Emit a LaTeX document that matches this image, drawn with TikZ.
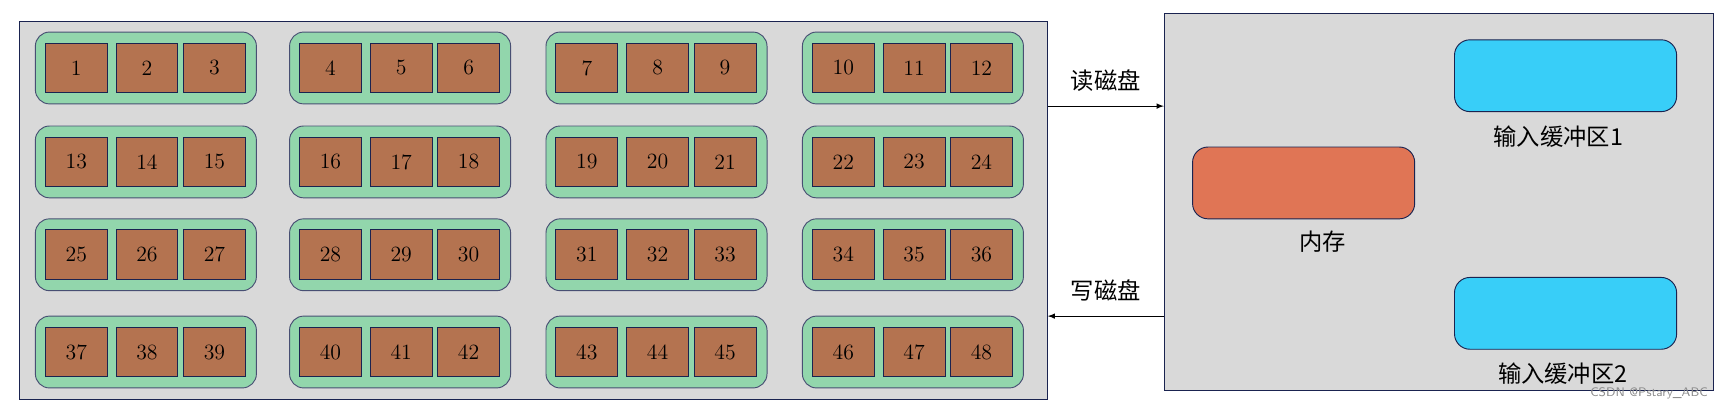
\documentclass[tikz,border=0pt]{standalone}
\usepackage{fontspec}
\newfontfamily\cjk{Noto Sans CJK SC}
\definecolor{bg}{HTML}{D9D9D9}
\definecolor{grp}{HTML}{92D6AC}
\definecolor{blk}{HTML}{B47350}
\definecolor{edge}{HTML}{1A2350}
\definecolor{mem}{HTML}{E07555}
\definecolor{buf}{HTML}{38CEF8}
\begin{document}
\begin{tikzpicture}[x=0.25mm,y=-0.25mm,
  box/.style={draw=edge,fill=bg,line width=0.6pt},
  grpS/.style={draw=edge!80,fill=grp,rounded corners=3.2mm,line width=0.6pt},
  blkS/.style={draw=edge,fill=blk,line width=0.6pt,font=\fontsize{14}{14}\selectfont},
  rr/.style={draw=edge,rounded corners=3.5mm,line width=0.6pt},
  lab/.style={font=\cjk\fontsize{15}{15}\selectfont},
  arr/.style={-latex,line width=0.6pt}]
\useasboundingbox (0,0) rectangle (1568,373);
\draw[box] (18,19) rectangle (948,361);
\foreach \r/\y in {0/29,1/114,2/198,3/286}{
  \foreach \c/\x in {0/32,1/262,2/494,3/726}{
    \draw[grpS] (\x,\y) rectangle ++(200,65);
    \foreach \k/\dx in {0/9,1/73,2/134}{
      \pgfmathtruncatemacro{\n}{\r*12+\c*3+\k+1}
      \draw[blkS] (\x+\dx,\y+10) rectangle node{\n} ++(56,45);
    }
  }
}
\node[box,minimum width=497*0.25mm,minimum height=341*0.25mm,anchor=north west,inner sep=0] (ram) at (1053,12) {};
\coordinate (dr) at (948,96);
\coordinate (dw) at (948,286);
\draw[arr] (dr) -- (dr -| ram.west) node[midway,above=6pt,lab]{读磁盘};
\draw[arr] (dw -| ram.west) -- (dw) node[midway,above=6pt,lab]{写磁盘};
\draw[rr,fill=mem] (1079,133) rectangle (1280,198);
\node[lab] (m) at (1197,219) {内存};
\draw[rr,fill=buf] (1316,36) rectangle (1517,101);
\node[lab] (b1) at (1410,124) {输入缓冲区1};
\draw[rr,fill=buf] (1316,251) rectangle (1517,316);
\node[lab] (b2) at (1414,338) {输入缓冲区2};
\node[font=\sffamily\fontsize{8}{8}\selectfont,text=black!45] at (1492,356) {CSDN @Pstary\_ABC};
\end{tikzpicture}
\end{document}
